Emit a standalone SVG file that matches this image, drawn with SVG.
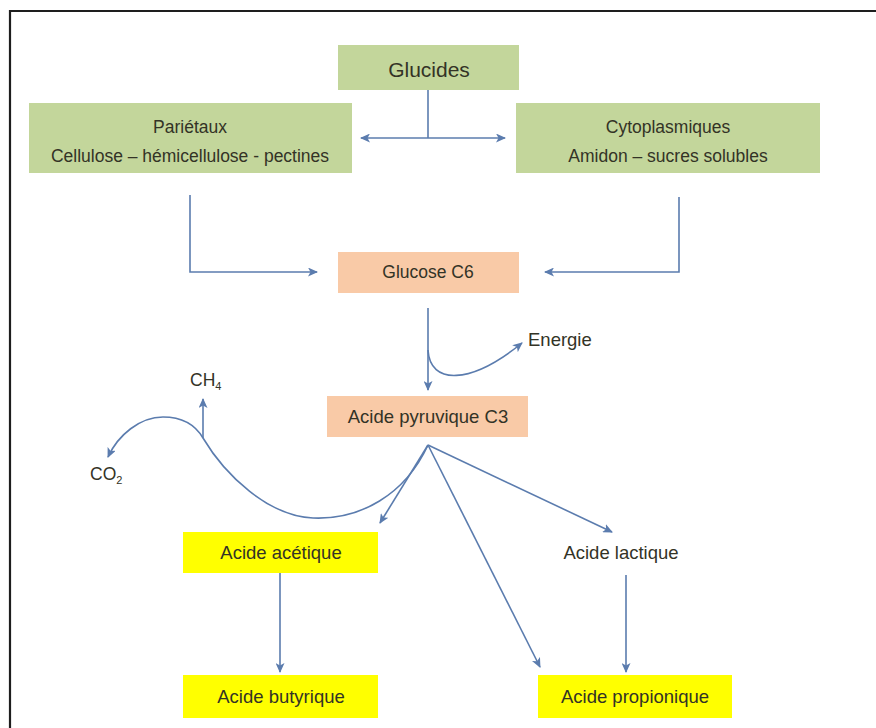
<svg xmlns="http://www.w3.org/2000/svg" width="876" height="728" viewBox="0 0 876 728">
<style>
text{font-family:"Liberation Sans",Arial,sans-serif;fill:#333326;text-anchor:middle}
.g{fill:#c3d69b}
.p{fill:#f9caa7}
.y{fill:#ffff00}
.c{fill:none;stroke:#5b7cae;stroke-width:1.6}
.a{marker-end:url(#ah)}
.t17{font-size:17.5px}
.t18{font-size:18.5px}
</style>
<defs>
<marker id="ah" markerUnits="userSpaceOnUse" markerWidth="10" markerHeight="9" refX="9" refY="4.5" orient="auto-start-reverse">
<path d="M0,0 L10,4.5 L0,9 L2.5,4.5 z" fill="#5b7cae"/>
</marker>
</defs>
<rect width="876" height="728" fill="#ffffff"/>
<path d="M10,728 V11 H876" fill="none" stroke="#1e1e1e" stroke-width="2.2"/>

<g id="glucides"><rect class="g" x="338" y="45" width="181" height="45"/><text x="429" y="77" style="font-size:21px">Glucides</text></g>
<g id="parietaux"><rect class="g" x="29" y="103" width="323" height="70"/><text class="t17" x="190" y="133">Pariétaux</text><text class="t17" x="190" y="162">Cellulose – hémicellulose - pectines</text></g>
<g id="cytoplasmiques"><rect class="g" x="516" y="103" width="304" height="70"/><text class="t17" x="668" y="133">Cytoplasmiques</text><text class="t17" x="668" y="162">Amidon – sucres solubles</text></g>
<g id="glucose"><rect class="p" x="338" y="252" width="181" height="41"/><text class="t17" x="428" y="278">Glucose C6</text></g>
<g id="energie"><text class="t18" x="528" y="346" style="text-anchor:start">Energie</text></g>
<g id="pyruvique"><rect class="p" x="327" y="396" width="201" height="41"/><text class="t18" x="428" y="423">Acide pyruvique C3</text></g>
<g id="ch4"><text class="t17" x="190" y="386" style="text-anchor:start">CH<tspan dy="4" style="font-size:11px">4</tspan></text></g>
<g id="co2"><text class="t17" x="90" y="480" style="text-anchor:start">CO<tspan dy="4" style="font-size:11px">2</tspan></text></g>
<g id="acetique"><rect class="y" x="183" y="532" width="195" height="41"/><text class="t18" x="281" y="559">Acide acétique</text></g>
<g id="lactique"><text class="t18" x="621" y="559">Acide lactique</text></g>
<g id="butyrique"><rect class="y" x="183" y="675" width="195" height="43"/><text class="t18" x="281" y="703">Acide butyrique</text></g>
<g id="propionique"><rect class="y" x="538" y="675" width="194" height="43"/><text class="t18" x="635" y="703">Acide propionique</text></g>

<g id="connectors">
<path class="c" d="M428,90 V138"/>
<path class="c" d="M361,138 H505" marker-start="url(#ah)" marker-end="url(#ah)"/>
<path class="c a" d="M190,195 V272 H317"/>
<path class="c a" d="M679,197 V272 H545"/>
<path class="c a" d="M428,308 V390"/>
<path class="c a" d="M428,350 C430,385 470,385 522,343"/>
<path class="c a" d="M428,445 C405,495 360,520 313,518 C268,516 225,475 203,438 C193,421 178,417 163,417 C140,417 118,435 108,457"/>
<path class="c a" d="M203,438 V399"/>
<path class="c a" d="M428,445 L380,523"/>
<path class="c a" d="M428,445 L540,667"/>
<path class="c a" d="M428,445 L612,532"/>
<path class="c a" d="M280,573 V672"/>
<path class="c a" d="M626,575 V672"/>
</g>
</svg>
